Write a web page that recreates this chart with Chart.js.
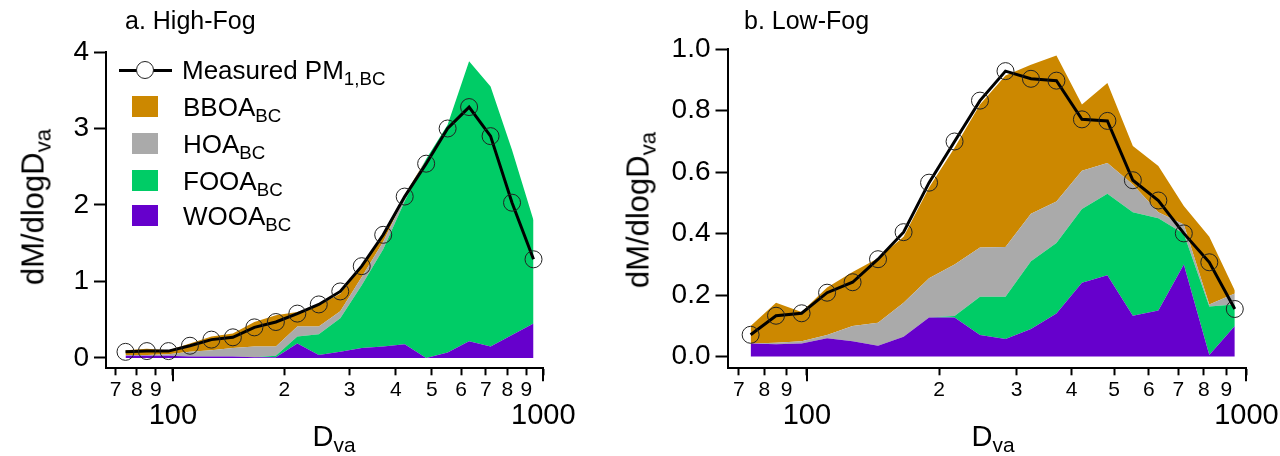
<!DOCTYPE html>
<html>
<head>
<meta charset="utf-8">
<script src="https://cdn.jsdelivr.net/npm/chart.js@4.4.1/dist/chart.umd.min.js"></script>
<style>
  body { margin: 0; background: #fff; font-family: "Liberation Sans", Arial, sans-serif; color: #000; }
  #wrap { position: relative; width: 1280px; height: 456px; overflow: hidden; }
  canvas { position: absolute; top: 0; }
  .lbl { position: absolute; white-space: nowrap; line-height: 1; }
  .lbl sub { font-size: 0.72em; vertical-align: -0.32em; line-height: 0; }
  .rot { transform: translate(-50%, -50%) rotate(-90deg); }
  .ctr { transform: translate(-50%, -50%); }
  .sw { position: absolute; width: 26px; height: 21px; }
  .leg { font-size: 26px; }
</style>
</head>
<body>
<div id="wrap">
  <canvas id="highFog" width="640" height="456" style="left:0"></canvas>
  <canvas id="lowFog" width="640" height="456" style="left:640px"></canvas>

  <!-- panel a -->
  <div class="lbl" style="left:125px;top:8px;font-size:25px">a. High-Fog</div>
  <div class="lbl rot" style="left:33px;top:207px;font-size:31px">dM/dlogD<sub>va</sub></div>
  <div class="lbl ctr" style="left:334px;top:436px;font-size:29px">D<sub>va</sub></div>

  <!-- legend -->
  <div style="position:absolute;left:119px;top:69px;width:53px;height:3px;background:#000"></div>
  <div style="position:absolute;left:136px;top:61px;width:16px;height:16px;border:1px solid #222;border-radius:50%;background:#fff"></div>
  <div class="lbl leg" style="left:182px;top:57px">Measured PM<sub>1,BC</sub></div>
  <div class="sw" style="left:132px;top:96px;background:#cc8800"></div>
  <div class="lbl leg" style="left:183px;top:94px">BBOA<sub>BC</sub></div>
  <div class="sw" style="left:132px;top:133px;background:#aaaaaa"></div>
  <div class="lbl leg" style="left:183px;top:131px">HOA<sub>BC</sub></div>
  <div class="sw" style="left:132px;top:170px;background:#00cc66"></div>
  <div class="lbl leg" style="left:183px;top:168px">FOOA<sub>BC</sub></div>
  <div class="sw" style="left:132px;top:205px;background:#6600cc"></div>
  <div class="lbl leg" style="left:183px;top:203px">WOOA<sub>BC</sub></div>

  <!-- panel b -->
  <div class="lbl" style="left:744px;top:8px;font-size:25px">b. Low-Fog</div>
  <div class="lbl rot" style="left:638px;top:210px;font-size:31px">dM/dlogD<sub>va</sub></div>
  <div class="lbl ctr" style="left:993px;top:436px;font-size:29px">D<sub>va</sub></div>
</div>

<script>
// size bins (nm)
const sizeBins = [74.5, 85.1, 97.3, 111.2, 127.1, 145.2, 166.0, 189.7, 216.8, 247.7,
                  283.1, 323.5, 369.7, 422.5, 482.8, 551.7, 630.5, 720.5, 823.4, 941.0];

// High-Fog
const hiMeasured = [0.08, 0.09, 0.09, 0.16, 0.24, 0.27, 0.40, 0.47, 0.58, 0.70,
                    0.87, 1.20, 1.61, 2.11, 2.54, 3.00, 3.28, 2.90, 2.03, 1.29];
const hiWOOA = [0.03, 0.03, 0.03, 0.02, 0.02, 0.02, 0.01, 0.01, 0.19, 0.04,
                0.08, 0.13, 0.15, 0.18, 0.00, 0.07, 0.22, 0.15, 0.30, 0.45];
const hiFOOA = [0.00, 0.00, 0.00, 0.00, 0.00, 0.00, 0.00, 0.02, 0.09, 0.27,
                0.44, 0.82, 1.27, 1.87, 2.60, 2.98, 3.66, 3.40, 2.42, 1.35];
const hiHOA = [0.01, 0.01, 0.02, 0.06, 0.08, 0.11, 0.14, 0.12, 0.13, 0.10,
               0.09, 0.11, 0.10, 0.05, 0.00, 0.00, 0.00, 0.00, 0.00, 0.00];
const hiBBOA = [0.06, 0.08, 0.05, 0.11, 0.18, 0.19, 0.32, 0.41, 0.19, 0.28,
                0.23, 0.13, 0.10, 0.03, 0.00, 0.00, 0.00, 0.00, 0.00, 0.00];

// Low-Fog
const loMeasured = [0.071, 0.133, 0.141, 0.208, 0.242, 0.317, 0.405, 0.566, 0.700, 0.833,
                    0.929, 0.904, 0.898, 0.772, 0.767, 0.574, 0.508, 0.401, 0.307, 0.155];
const loWOOA = [0.043, 0.040, 0.043, 0.060, 0.050, 0.035, 0.065, 0.127, 0.127, 0.070,
                0.057, 0.090, 0.140, 0.240, 0.265, 0.133, 0.150, 0.300, 0.005, 0.100];
const loFOOA = [0.000, 0.000, 0.000, 0.000, 0.000, 0.000, 0.000, 0.000, 0.005, 0.125,
                0.138, 0.220, 0.230, 0.240, 0.265, 0.337, 0.300, 0.100, 0.158, 0.070];
const loHOA = [0.000, 0.005, 0.007, 0.010, 0.050, 0.075, 0.110, 0.128, 0.168, 0.160,
               0.162, 0.155, 0.135, 0.125, 0.100, 0.090, 0.020, 0.030, 0.007, 0.035];
const loBBOA = [0.057, 0.130, 0.095, 0.155, 0.175, 0.210, 0.215, 0.295, 0.380, 0.465,
                0.558, 0.485, 0.475, 0.215, 0.260, 0.125, 0.150, 0.060, 0.220, 0.010];

// axis ticks
const xTickValues = [70, 80, 90, 100, 200, 300, 400, 500, 600, 700, 800, 900, 1000];
const xMajorValues = [100, 1000];
const hiYTicks = [0, 1, 2, 3, 4];
const loYTicks = [0, 0.2, 0.4, 0.6, 0.8, 1.0];

const FONT = '"Liberation Sans", Arial, sans-serif';
const colors = { bboa: '#cc8800', hoa: '#aaaaaa', fooa: '#00cc66', wooa: '#6600cc' };

const toPoints = vals => vals.map((v, i) => ({ x: sizeBins[i], y: v }));

function areaSet(label, vals, color, fill) {
    return {
        label: label,
        data: toPoints(vals),
        backgroundColor: color,
        borderColor: color,
        borderWidth: 0,
        pointRadius: 0,
        tension: 0,
        fill: fill,
        stack: 'factors',
        order: 2
    };
}

// longer ticks at the decades
const decadeTicks = {
    id: 'decadeTicks',
    afterDraw(chart) {
        const sx = chart.scales.x;
        const ctx = chart.ctx;
        ctx.save();
        ctx.strokeStyle = '#000';
        ctx.lineWidth = 2;
        xMajorValues.forEach(v => {
            const px = Math.round(sx.getPixelForValue(v));
            ctx.beginPath();
            ctx.moveTo(px, sx.top);
            ctx.lineTo(px, sx.top + 13);
            ctx.stroke();
        });
        ctx.restore();
    }
};

function buildChart(id, s, yMin, yMax, yTicks, yFmt, pad) {
    const ctx = document.getElementById(id).getContext('2d');
    return new Chart(ctx, {
        type: 'line',
        data: {
            datasets: [
                areaSet('WOOA', s.wooa, colors.wooa, 'origin'),
                areaSet('FOOA', s.fooa, colors.fooa, '-1'),
                areaSet('HOA', s.hoa, colors.hoa, '-1'),
                areaSet('BBOA', s.bboa, colors.bboa, '-1'),
                {
                    label: 'Measured PM1,BC',
                    data: toPoints(s.measured),
                    borderColor: '#000',
                    borderWidth: 3,
                    pointRadius: 8.5,
                    pointBorderWidth: 1,
                    pointBorderColor: '#222',
                    pointBackgroundColor: 'rgba(0,0,0,0)',
                    tension: 0,
                    fill: false,
                    stack: 'measured',
                    order: 0
                }
            ]
        },
        options: {
            responsive: false,
            animation: false,
            events: [],
            layout: { padding: pad },
            plugins: { legend: { display: false }, tooltip: { enabled: false } },
            scales: {
                x: {
                    type: 'logarithmic',
                    min: 66,
                    max: 1000,
                    afterBuildTicks: scale => {
                        scale.ticks = xTickValues.map(v => ({ value: v }));
                    },
                    afterFit: scale => {
                        scale.height = 80;
                        scale.paddingLeft = 0;
                        scale.paddingRight = 0;
                    },
                    ticks: {
                        autoSkip: false,
                        maxRotation: 0,
                        minRotation: 0,
                        padding: 2,
                        color: '#000',
                        font: c => xMajorValues.includes(c.tick && c.tick.value)
                            ? { family: FONT, size: 29, lineHeight: 0.88 }
                            : { family: FONT, size: 21, lineHeight: 1.2 },
                        callback: v => {
                            if (xMajorValues.includes(v)) return ['', String(v)];
                            const dec = Math.pow(10, Math.floor(Math.log10(v) + 1e-9));
                            return String(Math.round(v / dec));
                        }
                    },
                    grid: { drawOnChartArea: false, drawTicks: true, tickLength: 7, tickWidth: 2, tickColor: '#000' },
                    border: { display: true, color: '#000', width: 2 }
                },
                y: {
                    type: 'linear',
                    stacked: true,
                    min: yMin,
                    max: yMax,
                    afterBuildTicks: scale => {
                        scale.ticks = yTicks.map(v => ({ value: v }));
                    },
                    afterFit: scale => {
                        scale.width = 60;
                        scale.paddingTop = 0;
                        scale.paddingBottom = 0;
                    },
                    ticks: {
                        padding: 5,
                        color: '#000',
                        font: { family: FONT, size: 28 },
                        callback: yFmt
                    },
                    grid: { drawOnChartArea: false, drawTicks: true, tickLength: 12, tickWidth: 2, tickColor: '#000' },
                    border: { display: true, color: '#000', width: 2 }
                }
            }
        },
        plugins: [decadeTicks]
    });
}

buildChart('highFog',
    { measured: hiMeasured, wooa: hiWOOA, fooa: hiFOOA, hoa: hiHOA, bboa: hiBBOA },
    -0.135, 4, hiYTicks, v => String(v),
    { left: 46, top: 52, right: 96.7, bottom: 7.7 });

buildChart('lowFog',
    { measured: loMeasured, wooa: loWOOA, fooa: loFOOA, hoa: loHOA, bboa: loBBOA },
    -0.038, 1.0, loYTicks, v => v.toFixed(1),
    { left: 27.5, top: 49.3, right: 33.6, bottom: 7.7 });
</script>
</body>
</html>
